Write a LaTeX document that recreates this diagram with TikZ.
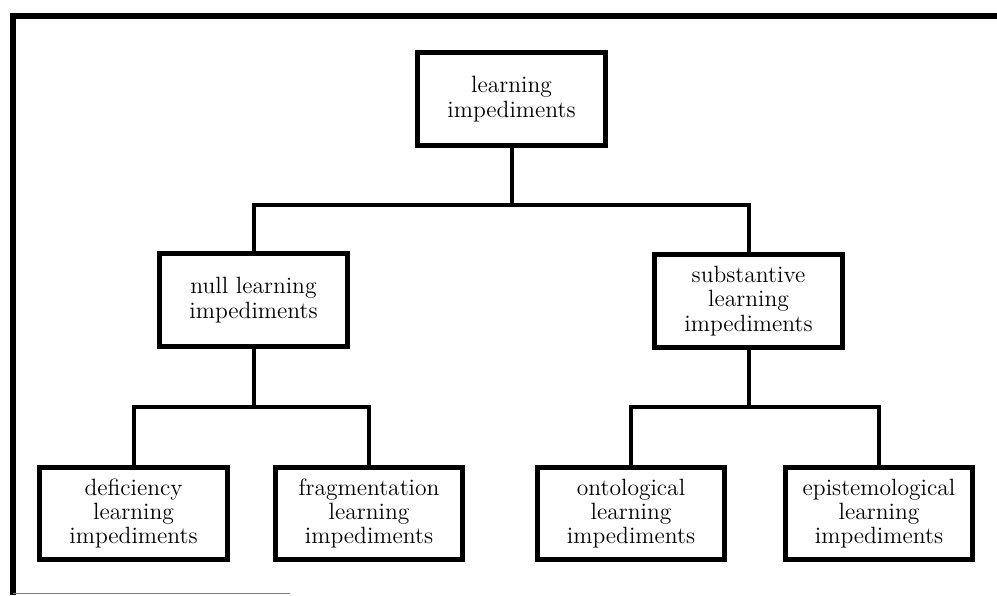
\documentclass[tikz,border=0pt]{standalone}
\usepackage{tikz}
\usetikzlibrary{calc}

\begin{document}
\begin{tikzpicture}[x=0.02cm, y=-0.02cm,
    box/.style={draw, line width=0.1cm, minimum width=3.76cm, minimum height=1.86cm,
        align=center, inner sep=2pt, font=\fontsize{13.4}{13.8}\selectfont},
    link/.style={line width=0.08cm, line join=miter}]
    \useasboundingbox (0,0) rectangle (997,595);

    % Frame
    \draw[line width=0.12cm] (13,595) -- (13,16) -- (997,16);
    \draw[gray, thin] (13,593) -- (290,593);

    % Root
    \node[box] (root) at (511.5,99) {learning\\impediments};

    % Second level
    \node[box] (null) at (253.5,300) {null learning\\impediments};
    \node[box] (subst) at (748.5,301) {substantive\\learning\\impediments};

    % Leaves
    \node[box] (defic) at (133.5,513.5) {deficiency\\learning\\impediments};
    \node[box] (frag) at (369,513.5) {fragmentation\\learning\\impediments};
    \node[box] (onto) at (631,513.5) {ontological\\learning\\impediments};
    \node[box] (epist) at (879,513.5) {epistemological\\learning\\impediments};

    % Branch points
    \coordinate (fork) at (511.5,205);
    \coordinate (nullfork) at (253.5,407);
    \coordinate (substfork) at (748.5,407);

    % Connectors
    \draw[link] (root) -- (fork);
    \draw[link] (null) |- (fork) -| (subst);
    \draw[link] (null) -- (nullfork);
    \draw[link] (defic) |- (nullfork) -| (frag);
    \draw[link] (subst) -- (substfork);
    \draw[link] (onto) |- (substfork) -| (epist);
\end{tikzpicture}
\end{document}
